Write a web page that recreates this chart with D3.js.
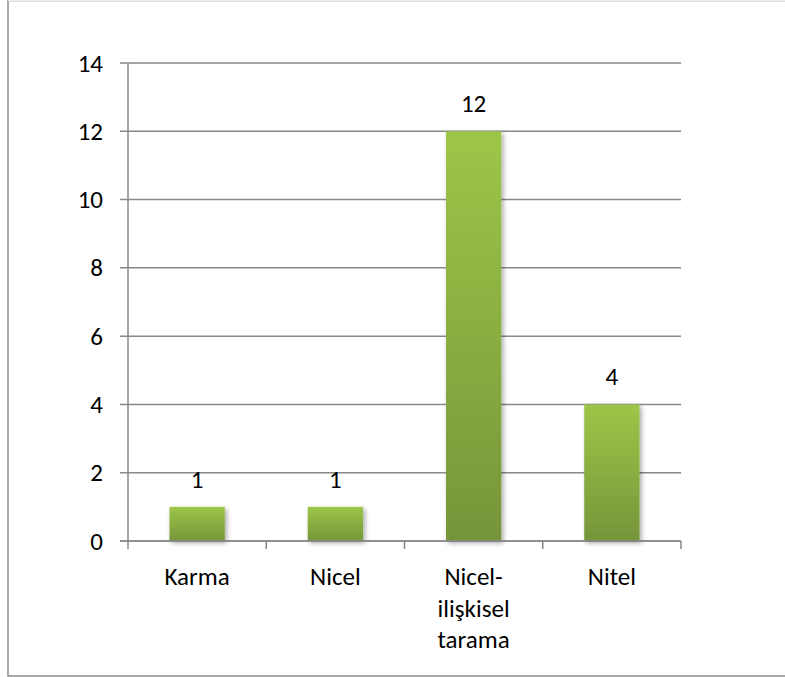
<!DOCTYPE html>
<html>
<head>
<meta charset="utf-8">
<script src="https://cdn.jsdelivr.net/npm/d3@7"></script>
<style>
  html, body { margin: 0; padding: 0; background: #fff; }
  svg { display: block; }
  text { font-family: Carlito, Calibri, Lato, "Noto Sans", sans-serif; fill: #000; }
</style>
</head>
<body>
<svg id="chart" width="785" height="677"></svg>
<script>
const categories = [["Karma"], ["Nicel"], ["Nicel-", "ilişkisel", "tarama"], ["Nitel"]];
const values = [1, 1, 12, 4];
const yTicks = [0, 2, 4, 6, 8, 10, 12, 14];

const svg = d3.select("#chart");
const W = 785, H = 677;
const margin = { left: 128, right: 104, top: 63, bottom: 136 };
const FS = "25px";

// outer frame
svg.append("rect").attr("x", 8).attr("y", 0.5).attr("width", W + 10).attr("height", 675.5)
  .attr("fill", "#fff").attr("stroke", "#8c8c8c").attr("stroke-width", 1.5);
svg.append("line").attr("x1", 8).attr("x2", W).attr("y1", 0.5).attr("y2", 0.5)
  .attr("stroke", "#ededed").attr("stroke-width", 1);

const defs = svg.append("defs");
const grad = defs.append("linearGradient").attr("id", "barGrad")
  .attr("x1", 0).attr("y1", 0).attr("x2", 0).attr("y2", 1);
grad.append("stop").attr("offset", "0%").attr("stop-color", "#9dc648");
grad.append("stop").attr("offset", "100%").attr("stop-color", "#76953a");

const shadow = defs.append("filter").attr("id", "shadow")
  .attr("x", "-20%").attr("y", "-10%").attr("width", "150%").attr("height", "130%");
shadow.append("feGaussianBlur").attr("in", "SourceAlpha").attr("stdDeviation", 2.5);
shadow.append("feOffset").attr("dx", 2).attr("dy", 2).attr("result", "ob");
shadow.append("feComponentTransfer").append("feFuncA").attr("type", "linear").attr("slope", 0.35);
const merge = shadow.append("feMerge");
merge.append("feMergeNode");
merge.append("feMergeNode").attr("in", "SourceGraphic");

const x = d3.scaleBand().domain(d3.range(categories.length))
  .range([margin.left, W - margin.right]).paddingInner(0.6).paddingOuter(0.3);
const xOuter = d3.scaleBand().domain(d3.range(categories.length))
  .range([margin.left, W - margin.right]);
const y = d3.scaleLinear().domain([0, 14]).range([H - margin.bottom, margin.top]);

// gridlines
svg.append("g").selectAll("line").data(yTicks).join("line")
  .attr("x1", margin.left - 8).attr("x2", W - margin.right)
  .attr("y1", d => y(d)).attr("y2", d => y(d))
  .attr("stroke", "#888").attr("stroke-width", 1.5);

// y axis
const yAxis = d3.axisLeft(y).tickValues(yTicks).tickSize(0).tickPadding(25);
const gy = svg.append("g").attr("transform", `translate(${margin.left},0)`).call(yAxis);
gy.select(".domain").remove();
gy.selectAll("text").style("font-size", FS)
  .style("font-family", "Carlito, Calibri, Lato, 'Noto Sans', sans-serif");
svg.append("line").attr("x1", margin.left).attr("x2", margin.left)
  .attr("y1", y(14)).attr("y2", y(0))
  .attr("stroke", "#888").attr("stroke-width", 1.5);

// x axis ticks (category boundaries)
const bounds = d3.range(categories.length + 1).map(i =>
  i < categories.length ? xOuter(i) : xOuter(i - 1) + xOuter.bandwidth());
svg.append("g").selectAll("line").data(bounds).join("line")
  .attr("x1", d => d).attr("x2", d => d)
  .attr("y1", y(0)).attr("y2", y(0) + 8)
  .attr("stroke", "#888").attr("stroke-width", 1.5);

// bars
svg.append("g").selectAll("rect").data(values).join("rect")
  .attr("x", (d, i) => x(i)).attr("width", x.bandwidth())
  .attr("y", d => y(d)).attr("height", d => y(0) - y(d))
  .attr("fill", "url(#barGrad)").attr("filter", "url(#shadow)");

// redraw baseline on top
svg.append("line").attr("x1", margin.left - 8).attr("x2", W - margin.right)
  .attr("y1", y(0)).attr("y2", y(0)).attr("stroke", "#888").attr("stroke-width", 1.5);

// value labels
svg.append("g").selectAll("text").data(values).join("text")
  .attr("x", (d, i) => x(i) + x.bandwidth() / 2)
  .attr("y", d => y(d) - 19)
  .attr("text-anchor", "middle").style("font-size", FS)
  .text(d => d);

// category labels
const cat = svg.append("g").selectAll("text").data(categories).join("text")
  .attr("text-anchor", "middle").style("font-size", FS);
cat.each(function(lines, i) {
  const t = d3.select(this);
  lines.forEach((ln, j) => {
    t.append("tspan").attr("x", xOuter(i) + xOuter.bandwidth() / 2)
      .attr("y", 585 + j * 31.5).text(ln);
  });
});
</script>
</body>
</html>
